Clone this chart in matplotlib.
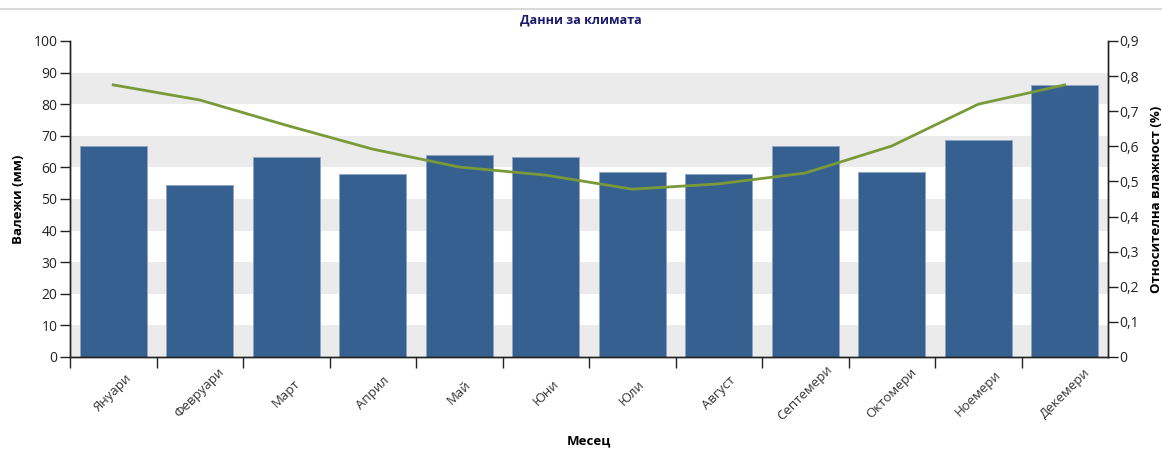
import numpy as np
import matplotlib
matplotlib.use('Agg')
import matplotlib.pyplot as plt
from matplotlib.ticker import FuncFormatter

plt.rcParams['font.family'] = ['Open Sans', 'DejaVu Sans']

# data
months = ['Януари', 'Февруари', 'Март', 'Април', 'Май', 'Юни',
          'Юли', 'Август', 'Септемери', 'Октомери', 'Ноемери', 'Декемери']
rain_mm = [66.8, 54.4, 63.3, 57.9, 63.9, 63.3, 58.5, 57.9, 66.8, 58.5, 68.7, 86.1]
humidity = [0.775, 0.732, 0.66, 0.592, 0.541, 0.518, 0.478, 0.493, 0.524, 0.601, 0.72, 0.775]

fig = plt.figure(figsize=(11.62, 4.49), dpi=100)
ax1 = fig.add_axes([70 / 1162, 1 - 357 / 449, 1038 / 1162, 316 / 449])
ax2 = ax1.twinx()

# grey bands every other 10 mm
for lo in range(0, 100, 20):
    ax1.axhspan(lo, lo + 10, color='#ebebeb', zorder=0, lw=0)

x = np.arange(len(months))
ax1.bar(x, rain_mm, width=0.77, color='#36608f', edgecolor='#8ea6c2',
        linewidth=0.6, zorder=2)
ax2.plot(x, humidity, color='#7a9a3a', lw=2, zorder=3)

ax1.set_xlim(-0.5, len(months) - 0.5)
ax1.set_ylim(0, 100)
ax2.set_ylim(0, 0.9)

# ticks at category boundaries, labels at centers
ax1.set_xticks(np.arange(-0.5, len(months) - 0.5, 1))
ax1.set_xticklabels([])
ax1.set_xticks(x, minor=True)
ax1.set_xticklabels(months, minor=True, rotation=45, ha='center', va='center',
                    rotation_mode='anchor', fontsize=9.5, color='#333333')
ax1.tick_params(axis='x', which='major', length=8, width=1, color='#222222')
ax1.tick_params(axis='x', which='minor', length=0, pad=26)

ax1.set_yticks(range(0, 101, 10))
ax1.tick_params(axis='y', length=7, width=1, color='#222222',
                labelsize=10, labelcolor='#222222', pad=2)
ax2.set_yticks(np.arange(0, 0.91, 0.1))
ax2.yaxis.set_major_formatter(FuncFormatter(
    lambda v, p: '0' if abs(v) < 1e-9 else f'{v:.1f}'.replace('.', ',')))
ax2.tick_params(axis='y', length=7, width=1, color='#222222',
                labelsize=10, labelcolor='#222222', pad=1)

for ax in (ax1, ax2):
    ax.spines['top'].set_visible(False)
    for s in ('left', 'right', 'bottom'):
        ax.spines[s].set_color('#222222')
        ax.spines[s].set_linewidth(1)

ax1.set_ylabel('Валежи (мм)', fontsize=9.5, fontweight='bold', labelpad=6)
ax2.set_ylabel('Относителна влажност (%)', fontsize=9.5, fontweight='bold',
               labelpad=8)
fig.text(589 / 1162, 1 - 441 / 449, 'Месец', ha='center', va='center',
         fontsize=9.5, fontweight='bold')
fig.text(0.5, 1 - 20 / 449, 'Данни за климата', ha='center', va='center',
         fontsize=9, fontweight='bold', color='#1a1a6e')

# thin line along the top
fig.add_artist(plt.Line2D([0, 1], [1 - 9 / 449, 1 - 9 / 449],
                          color='#d8d8d8', lw=1.5, transform=fig.transFigure))

fig.savefig('out.png', dpi=100)
